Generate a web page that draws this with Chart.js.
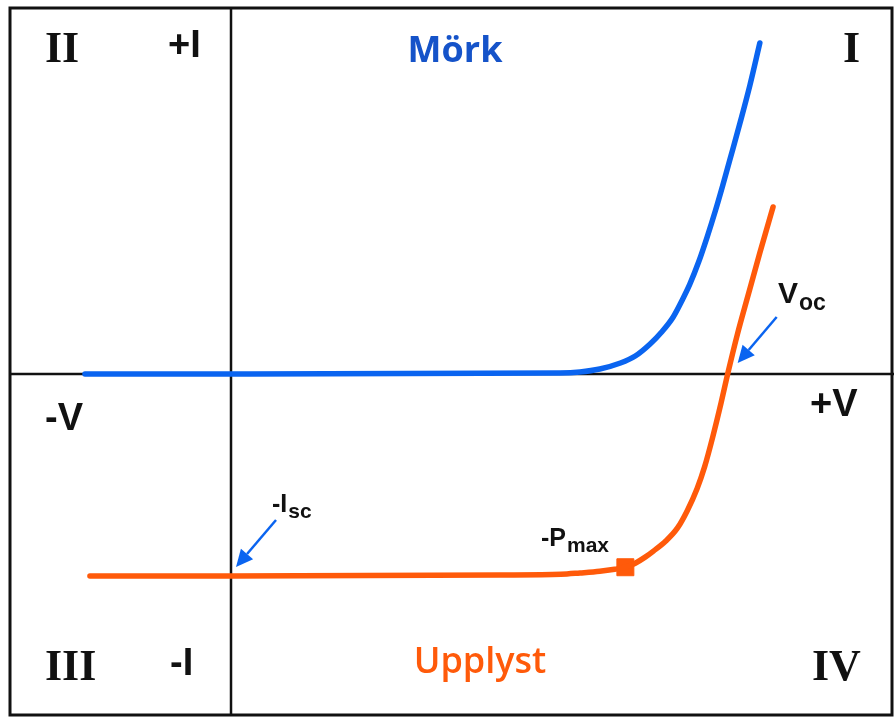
<!DOCTYPE html>
<html>
<head>
<meta charset="utf-8">
<script src="https://cdn.jsdelivr.net/npm/chart.js@4"></script>
<style>
  html, body { margin: 0; padding: 0; background: #fff; }
  #wrap { width: 894px; height: 718px; position: relative; }
</style>
</head>
<body>
<div id="wrap"><canvas id="ivChart"></canvas></div>
<script>
// Spänning (V) och ström (A)
const darkV = [-0.177, 0, 0.399, 0.423, 0.447, 0.472, 0.490, 0.508, 0.522, 0.536, 0.547, 0.556,
  0.567, 0.577, 0.587, 0.596, 0.606, 0.617, 0.629, 0.641];
const darkI = [0, 0, 0.015, 0.03, 0.074, 0.163, 0.267, 0.446, 0.624, 0.847, 1.10, 1.33,
  1.67, 2.03, 2.42, 2.80, 3.24, 3.73, 4.29, 4.916];

const lightV = [-0.171, 0, 0.326, 0.40, 0.423, 0.447, 0.465, 0.478, 0.490, 0.502, 0.512, 0.527,
  0.541, 0.553, 0.565, 0.574, 0.584, 0.594, 0.602, 0.614, 0.627, 0.641, 0.657];
const lightI = [-3.0, -3.0, -2.985, -2.975, -2.955, -2.93, -2.90, -2.87, -2.81, -2.72, -2.63, -2.48,
  -2.29, -2.03, -1.70, -1.38, -0.93, -0.43, 0, 0.60, 1.18, 1.80, 2.48];

const pmaxV = [0.478];
const pmaxI = [-2.87];

const iscPoint = { x: 0, y: -3.0 };
const vocPoint = { x: 0.602, y: 0 };

const xRange = [-0.28, 0.8036];
const yRange = [-5.109, 5.554];

const BLUE = '#0a64f0';
const BLUE_TEXT = '#1553c9';
const ORANGE = '#ff5a0a';

function toXY(xs, ys) {
  return xs.map((x, i) => ({ x: x, y: ys[i] }));
}

// ram, axlar, text och pilar
const decorPlugin = {
  id: 'decor',
  beforeDraw(chart) {
    const ctx = chart.ctx;
    ctx.save();
    ctx.fillStyle = '#fff';
    ctx.fillRect(0, 0, chart.width, chart.height);
    ctx.restore();
  },
  beforeDatasetsDraw(chart) {
    const ctx = chart.ctx;
    const xs = chart.scales.x, ys = chart.scales.y;
    const x0 = xs.getPixelForValue(0), y0 = ys.getPixelForValue(0);
    ctx.save();
    ctx.strokeStyle = '#111';
    ctx.lineWidth = 3;
    ctx.strokeRect(10, 8, 882, 707);
    ctx.lineWidth = 2.5;
    ctx.beginPath();
    ctx.moveTo(x0, 8); ctx.lineTo(x0, 715);
    ctx.moveTo(10, y0); ctx.lineTo(894, y0);
    ctx.stroke();
    ctx.restore();
  },
  afterDraw(chart) {
    const ctx = chart.ctx;
    const xs = chart.scales.x, ys = chart.scales.y;
    ctx.save();
    ctx.textBaseline = 'alphabetic';

    function txt(s, x, y, font, color, align) {
      ctx.font = font;
      ctx.fillStyle = color || '#111';
      ctx.textAlign = align || 'left';
      ctx.fillText(s, x, y);
      return x + ctx.measureText(s).width;
    }
    // text med nedsänkt index
    function sub(main, idx, x, y, size, subSize, dy) {
      const end = txt(main, x, y, 'bold ' + size + 'px "Liberation Sans", Arial, sans-serif');
      txt(idx, end + 1, y + dy, 'bold ' + subSize + 'px "Liberation Sans", Arial, sans-serif');
    }
    const serif = 'bold 44px "Liberation Serif", "DejaVu Serif", serif';
    const sans = 'bold 38px "Liberation Sans", Arial, sans-serif';

    txt('II', 45, 62, serif);
    txt('+I', 168, 57, sans);
    txt('I', 843, 62, serif);
    txt('III', 45, 680, serif);
    txt('-I', 170, 675, sans);
    txt('IV', 812, 680, serif);
    txt('-V', 45, 430, sans);
    txt('+V', 810, 416, sans);

    txt('Mörk', 455, 62, 'bold 36px "Open Sans", "Liberation Sans", sans-serif', BLUE_TEXT, 'center');
    txt('Upplyst', 480, 673, '600 36px "Open Sans", "Liberation Sans", sans-serif', ORANGE, 'center');

    sub('V', 'oc', 778, 303, 30, 23, 7);
    sub('-I', 'sc', 272, 512, 25, 21, 6);
    sub('-P', 'max', 541, 546, 25, 21, 6);

    // pilar
    function arrow(fx, fy, tx, ty) {
      const a = Math.atan2(ty - fy, tx - fx);
      const hl = 17, hw = 8;
      const bx = tx - hl * Math.cos(a), by = ty - hl * Math.sin(a);
      ctx.strokeStyle = BLUE;
      ctx.fillStyle = BLUE;
      ctx.lineWidth = 2.5;
      ctx.beginPath();
      ctx.moveTo(fx, fy); ctx.lineTo(bx, by);
      ctx.stroke();
      ctx.beginPath();
      ctx.moveTo(tx, ty);
      ctx.lineTo(bx + hw * Math.sin(a), by - hw * Math.cos(a));
      ctx.lineTo(bx - hw * Math.sin(a), by + hw * Math.cos(a));
      ctx.closePath();
      ctx.fill();
    }
    const vx = xs.getPixelForValue(vocPoint.x), vy = ys.getPixelForValue(vocPoint.y);
    arrow(vx + 49, vy - 57, vx + 10, vy - 11);
    const ix = xs.getPixelForValue(iscPoint.x), iy = ys.getPixelForValue(iscPoint.y);
    arrow(ix + 45, iy - 56, ix + 5, iy - 9);

    ctx.restore();
  }
};

const ctx = document.getElementById('ivChart');

new Chart(ctx, {
  type: 'scatter',
  data: {
    datasets: [{
      label: 'Mörk',
      data: toXY(darkV, darkI),
      showLine: true,
      borderColor: BLUE,
      borderWidth: 5.5,
      borderCapStyle: 'round',
      borderJoinStyle: 'round',
      pointRadius: 0,
      cubicInterpolationMode: 'monotone'
    }, {
      label: 'Upplyst',
      data: toXY(lightV, lightI),
      showLine: true,
      borderColor: ORANGE,
      borderWidth: 5.5,
      borderCapStyle: 'round',
      borderJoinStyle: 'round',
      pointRadius: 0,
      cubicInterpolationMode: 'monotone'
    }, {
      label: 'Pmax',
      data: toXY(pmaxV, pmaxI),
      showLine: false,
      pointStyle: 'rect',
      pointRadius: 12,
      backgroundColor: ORANGE,
      borderColor: ORANGE,
      borderWidth: 1
    }]
  },
  options: {
    responsive: true,
    maintainAspectRatio: false,
    animation: false,
    layout: { padding: 0, autoPadding: false },
    plugins: {
      legend: { display: false },
      tooltip: { enabled: false }
    },
    scales: {
      x: { type: 'linear', min: xRange[0], max: xRange[1], display: false },
      y: { type: 'linear', min: yRange[0], max: yRange[1], display: false }
    }
  },
  plugins: [decorPlugin]
});
</script>
</body>
</html>
